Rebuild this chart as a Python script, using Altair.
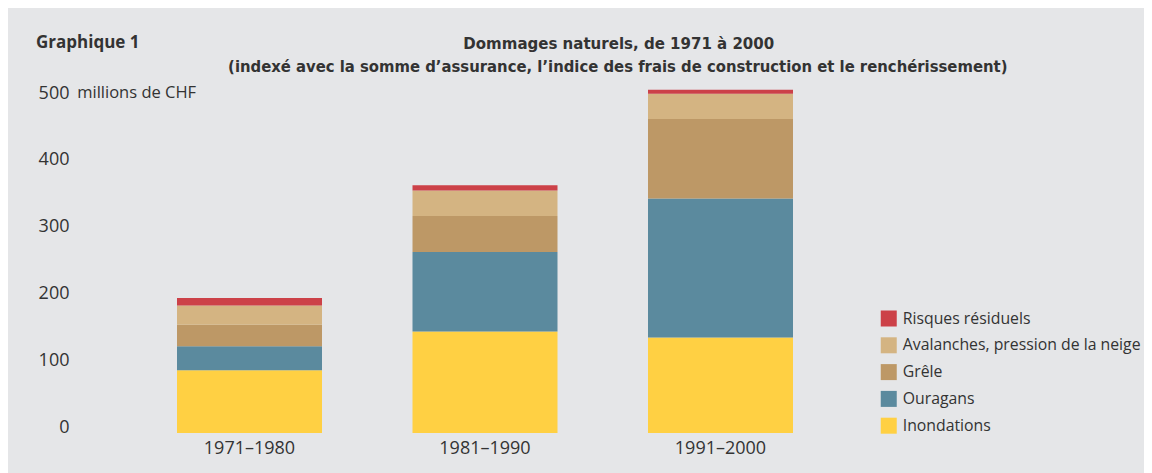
import altair as alt
import pandas as pd

periods = ["1971–1980", "1981–1990", "1991–2000"]
categories = ["Risques résiduels", "Avalanches, pression de la neige", "Grêle", "Ouragans", "Inondations"]
colors = ["#cc4148", "#d4b482", "#bd9866", "#5b8a9e", "#ffd043"]
inondations = [94, 152, 143]
ouragans = [36, 119, 208]
grele = [32, 54, 119]
avalanches = [29, 38, 38]
risques = [11, 8, 6]
y_ticks = [0, 100, 200, 300, 400, 500]

series = {
    "Inondations": inondations,
    "Ouragans": ouragans,
    "Grêle": grele,
    "Avalanches, pression de la neige": avalanches,
    "Risques résiduels": risques,
}
rows = []
for order, (cat, vals) in enumerate(series.items()):
    for p, v in zip(periods, vals):
        rows.append({"period": p, "cat": cat, "value": v, "order": order})
df = pd.DataFrame(rows)

FONT = "Open Sans"
TFONT = "DejaVu Sans Condensed, Roboto Condensed, Roboto"
TXT = "#333333"

PLOT_W, PLOT_H = 706.5, 334
PAD_L, PAD_T = 123.75, 91
TOTAL_W, TOTAL_H = 1136, 465

yscale = alt.Scale(domain=[0, 500], nice=False)

bars = alt.Chart(df).mark_bar().encode(
    x=alt.X("period:N", sort=periods, title=None,
            scale=alt.Scale(paddingInner=0.3843, paddingOuter=0.19215),
            axis=alt.Axis(labelAngle=0, domain=False, ticks=False, labelFont=FONT,
                          labelFontSize=18, labelColor=TXT, labelPadding=6)),
    y=alt.Y("value:Q", stack="zero", title=None, scale=yscale,
            axis=alt.Axis(values=y_ticks, grid=False, domain=False, ticks=False,
                          labelAlign="right", labelBaseline="alphabetic",
                          labelPadding=62.75, labelFont=FONT, labelFontSize=18,
                          labelColor=TXT, labelOffset=-1)),
    color=alt.Color("cat:N", title=None,
                    scale=alt.Scale(domain=categories, range=colors),
                    legend=alt.Legend(orient="none", legendX=749, legendY=211.5,
                                      symbolType="square", symbolSize=256,
                                      symbolStrokeWidth=0, labelFont=FONT,
                                      labelFontSize=15.8, labelColor=TXT,
                                      labelOffset=6,
                                      rowPadding=10.8, labelLimit=400, padding=0)),
    order=alt.Order("order:Q", sort="ascending"),
)

unit = alt.Chart(pd.DataFrame({"t": ["millions de CHF"]})).mark_text(
    align="left", baseline="alphabetic", font=FONT, fontSize=16.5, color=TXT, dy=-1
).encode(text="t:N", x=alt.value(-54.5), y=alt.datum(500))

def label(text, x, y, align, size, bold, font):
    return alt.Chart(pd.DataFrame({"t": [text]})).mark_text(
        align=align, baseline="middle", font=font, fontSize=size,
        fontWeight="bold" if bold else "normal", color=TXT
    ).encode(text="t:N", x=alt.value(x), y=alt.value(y))

g1 = label("Graphique 1", -95.75, -56, "left", 17, True, FONT)
t1 = label("Dommages naturels, de 1971 à 2000", 487, -55, "center", 16.7, True, TFONT)
t2 = label("(indexé avec la somme d’assurance, l’indice des frais de construction et le renchérissement)",
           486, -32, "center", 16.5, True, TFONT)

chart = alt.layer(bars, unit, g1, t1, t2).properties(
    width=PLOT_W, height=PLOT_H,
    autosize=alt.AutoSizeParams(type="none"),
    padding={"left": PAD_L, "top": PAD_T,
             "right": TOTAL_W - PAD_L - PLOT_W, "bottom": TOTAL_H - PAD_T - PLOT_H},
    background="#e5e6e8",
).configure_view(stroke=None)

chart.save("out.html", embed_options={"renderer": "svg", "actions": False})
